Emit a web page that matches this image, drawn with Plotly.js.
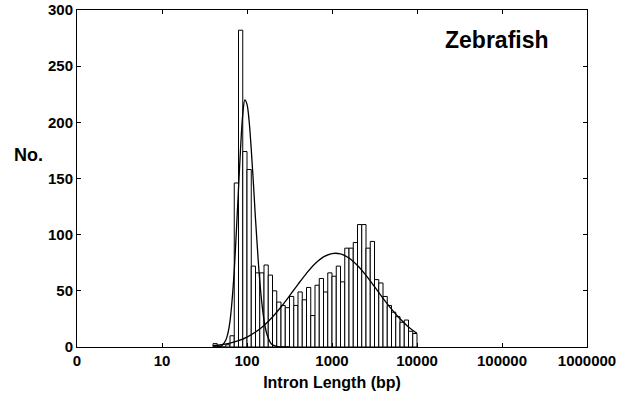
<!DOCTYPE html>
<html>
<head>
<meta charset="utf-8">
<script src="https://cdn.plot.ly/plotly-3.0.1.min.js"></script>
<style>
  html, body { margin: 0; padding: 0; background: #ffffff; }
  #chart { width: 632px; height: 400px; }
</style>
</head>
<body>
<div id="chart"></div>
<script>
// Histogram of zebrafish intron lengths, binned on log10(length in bp), 0.05-decade bins
const binCentersLog10 = [
  1.625, 1.675, 1.725, 1.775, 1.825, 1.875, 1.925, 1.975, 2.025, 2.075,
  2.125, 2.175, 2.225, 2.275, 2.325, 2.375, 2.425, 2.475, 2.525, 2.575,
  2.625, 2.675, 2.725, 2.775, 2.825, 2.875, 2.925, 2.975, 3.025, 3.075,
  3.125, 3.175, 3.225, 3.275, 3.325, 3.375, 3.425, 3.475, 3.525, 3.575,
  3.625, 3.675, 3.725, 3.775, 3.825, 3.875, 3.925, 3.975
];
const intronCounts = [
  3, 0, 0, 2, 10, 146, 282, 174, 158, 72,
  66, 66, 73, 64, 50, 40, 37, 35, 45, 37,
  49, 42, 53, 28, 55, 61, 49, 66, 63, 72,
  58, 88, 88, 93, 109, 109, 88, 94, 60, 57,
  45, 37, 31, 27, 22, 24, 14, 12
];

// Fitted distributions (short and long intron classes), sampled along log10(length)
const shortFitX = [
  1.60, 1.65, 1.70, 1.75, 1.775, 1.80, 1.825, 1.85, 1.875, 1.90,
  1.925, 1.95, 1.975, 2.00, 2.025, 2.05, 2.075, 2.10, 2.125, 2.15,
  2.175, 2.20, 2.225, 2.25, 2.275, 2.30, 2.35, 2.40, 2.50
];
const shortFitY = [
  0, 0.1, 1, 6, 12, 23, 42, 68, 103, 141,
  178, 207, 220, 216, 201, 176, 146, 114, 85, 59,
  39, 24, 14, 8, 4, 2, 0.5, 0.1, 0
];
const longFitX = [
  1.6, 1.7, 1.8, 1.9, 2.0, 2.1, 2.2, 2.3, 2.4, 2.5,
  2.6, 2.7, 2.8, 2.9, 3.0, 3.1, 3.2, 3.3, 3.4, 3.5,
  3.6, 3.7, 3.8, 3.9, 4.0
];
const longFitY = [
  1.1, 2.0, 3.4, 5.6, 8.8, 13.3, 19.2, 26.7, 35.6, 45.5,
  55.8, 65.6, 74.1, 80.2, 83.2, 82.9, 79.2, 72.5, 63.7, 53.7,
  43.4, 33.7, 25.1, 17.9, 12.3
];

// Axis labelling: decades of intron length
const decadeTicks = [0, 1, 2, 3, 4, 5, 6];
const decadeLabels = ['0', '10', '100', '1000', '10000', '100000', '1000000'];
const countTicks = [0, 50, 100, 150, 200, 250, 300];

const FONT = 'Liberation Sans, Arial, Helvetica, sans-serif';
const binWidth = 0.05;

const traces = [
  {
    type: 'bar',
    x: binCentersLog10,
    y: intronCounts,
    width: binCentersLog10.map(() => binWidth),
    marker: { color: '#ffffff', line: { color: '#000000', width: 1 } },
    hoverinfo: 'x+y'
  },
  {
    type: 'scatter',
    mode: 'lines',
    x: shortFitX,
    y: shortFitY,
    line: { color: '#000000', width: 1.3, shape: 'spline', smoothing: 1 }
  },
  {
    type: 'scatter',
    mode: 'lines',
    x: longFitX,
    y: longFitY,
    line: { color: '#000000', width: 1.3, shape: 'spline', smoothing: 1 }
  }
];

const axisCommon = {
  showline: true,
  linecolor: '#000000',
  linewidth: 1,
  mirror: 'ticks',
  ticks: 'inside',
  ticklen: 4,
  tickcolor: '#000000',
  showgrid: false,
  zeroline: false,
  tickfont: { family: FONT, size: 15, weight: 'bold', color: '#000000' }
};

const layout = {
  width: 632,
  height: 400,
  margin: { l: 77, r: 45, t: 10, b: 53 },
  paper_bgcolor: '#ffffff',
  plot_bgcolor: '#ffffff',
  showlegend: false,
  bargap: 0,
  xaxis: Object.assign({}, axisCommon, {
    range: [0, 6],
    tickmode: 'array',
    tickvals: decadeTicks,
    ticktext: decadeLabels,
    title: {
      text: 'Intron Length (bp)',
      font: { family: FONT, size: 16, weight: 'bold', color: '#000000' },
      standoff: 8
    }
  }),
  yaxis: Object.assign({}, axisCommon, {
    range: [0, 300],
    tickmode: 'array',
    tickvals: countTicks
  }),
  annotations: [
    {
      text: 'Zebrafish',
      xref: 'paper', yref: 'paper',
      x: 0.8235, y: 0.911,
      xanchor: 'center', yanchor: 'middle',
      showarrow: false,
      font: { family: FONT, size: 23, weight: 'bold', color: '#000000' }
    },
    {
      text: 'No.',
      xref: 'paper', yref: 'paper',
      x: -0.096, y: 0.57,
      xanchor: 'center', yanchor: 'middle',
      showarrow: false,
      font: { family: FONT, size: 18, weight: 'bold', color: '#000000' }
    }
  ]
};

Plotly.newPlot('chart', traces, layout, { staticPlot: true, displayModeBar: false });
</script>
</body>
</html>
